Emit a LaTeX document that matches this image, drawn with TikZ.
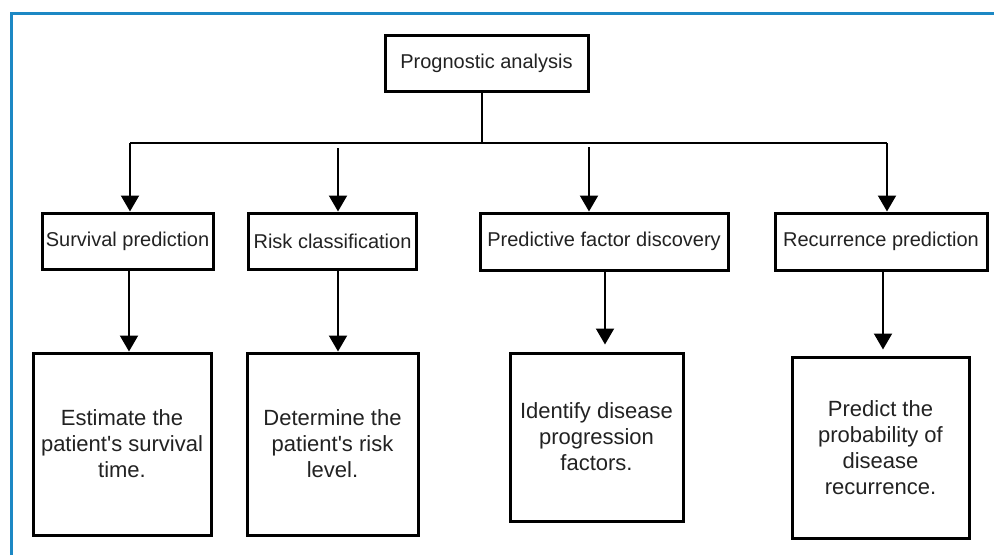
\documentclass[tikz,border=0pt]{standalone}
\usepackage{fontspec}
\setmainfont{Liberation Sans}
\usetikzlibrary{arrows.meta}
\definecolor{frameblue}{RGB}{28,136,196}
\definecolor{txt}{RGB}{34,34,34}
\tikzset{
  box/.style={draw=black, line width=3pt, fill=white, inner sep=0pt, align=center, text=txt},
  headbox/.style={box, font=\fontsize{20}{24}\selectfont},
  bigbox/.style={box, font=\fontsize{22}{26}\selectfont},
  conn/.style={draw=black, line width=2pt},
  arr/.style={conn, -{Triangle[width=18pt,length=16pt]}}
}
\begin{document}
\begin{tikzpicture}[x=1pt,y=-1pt]
\useasboundingbox (0,0) rectangle (994,555);
\fill[white] (0,0) rectangle (994,555);
\draw[frameblue, line width=3pt] (11,555) -- (11,13) -- (994,13);

\node[headbox, minimum width=203pt, minimum height=56pt] (top) at (486.5,63) {Prognostic analysis};

\node[headbox, minimum width=171pt, minimum height=56pt] (s1) at (127.5,241) {Survival prediction};
\node[headbox, minimum width=168pt, minimum height=56pt] (s2) at (332.5,241) {Risk classification};
\node[headbox, minimum width=248pt, minimum height=57pt] (s3) at (604,241.5) {Predictive factor discovery};
\node[headbox, minimum width=212pt, minimum height=57pt] (s4) at (881,241.5) {Recurrence prediction};

\node[bigbox, minimum width=178pt, minimum height=182pt] (b1) at (122,444) {Estimate the\\patient\textquotesingle s survival\\time.};
\node[bigbox, minimum width=171pt, minimum height=182pt] (b2) at (332.5,444) {Determine the\\patient\textquotesingle s risk\\level.};
\node[bigbox, minimum width=173pt, minimum height=168pt] (b3) at (596.5,437) {Identify disease\\progression\\factors.};
\node[bigbox, minimum width=177pt, minimum height=181pt] (b4) at (880.5,447.5) {Predict the\\probability of\\disease\\recurrence.};

\coordinate (hL) at (130,143);
\coordinate (hR) at (887,143);
\coordinate (d2) at (338,148);
\coordinate (d3) at (589,147);

\draw[conn] (top.south -| 482,0) -- (482,143);
\draw[conn] (hL) -- (hR);
\draw[arr] (hL) -- (hL |- s1.north);
\draw[arr] (d2) -- (d2 |- s2.north);
\draw[arr] (d3) -- (d3 |- s3.north);
\draw[arr] (hR) -- (hR |- s4.north);

\draw[arr] (s1.south -| 129,0) -- (129,0 |- b1.north);
\draw[arr] (s2.south -| 338,0) -- (338,0 |- b2.north);
\draw[arr, shorten >=7pt] (s3.south -| 605,0) -- (605,0 |- b3.north);
\draw[arr, shorten >=6pt] (s4.south -| 883,0) -- (883,0 |- b4.north);
\end{tikzpicture}
\end{document}
